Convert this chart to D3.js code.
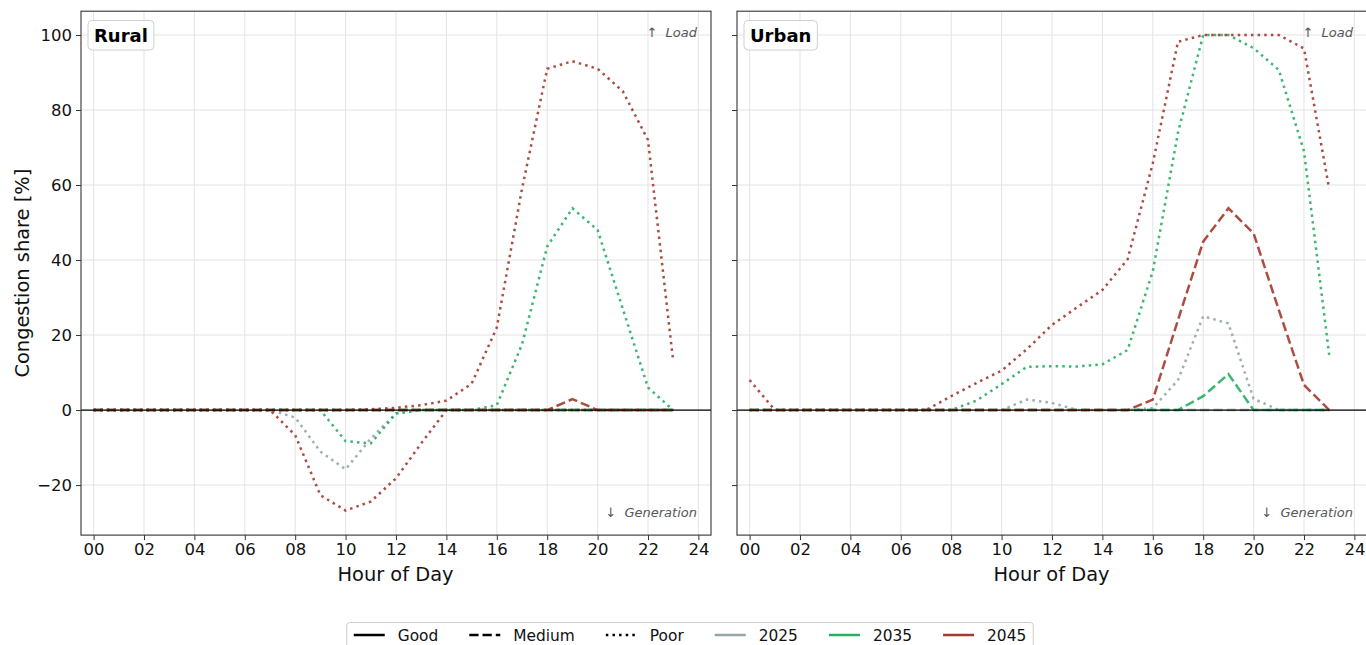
<!DOCTYPE html>
<html>
<head>
<meta charset="utf-8">
<script src="https://cdn.jsdelivr.net/npm/d3@7"></script>
<style>
  html, body { margin: 0; padding: 0; background: #fff; }
  svg { display: block; font-family: "DejaVu Sans", sans-serif; }
</style>
</head>
<body>
<svg id="chart" width="1366" height="645"></svg>
<script>
// ---------------- DATA ----------------
const hours = [0,1,2,3,4,5,6,7,8,9,10,11,12,13,14,15,16,17,18,19,20,21,22,23];
const xTicks = [0,2,4,6,8,10,12,14,16,18,20,22,24];
const yTicks = [-20,0,20,40,60,80,100];
const regions = ["Rural", "Urban"];
const qualities = ["Good", "Medium", "Poor"];
const years = ["2025", "2035", "2045"];
const yearColors = ["#95a5a6", "#27ae60", "#a33a2e"];

// Rural – load (positive) and generation (negative)
const ruralMedium2025Load = [0,0,0,0,0,0,0,0,0,0,0,0,0,0,0,0,0,0,0,0,0,0,0,0];
const ruralMedium2035Load = [0,0,0,0,0,0,0,0,0,0,0,0,0,0,0,0,0,0,0,0,0,0,0,0];
const ruralMedium2045Load = [0,0,0,0,0,0,0,0,0,0,0,0,0,0,0,0,0,0,0,2.9,0,0,0,0];
const ruralPoor2025Load   = [0,0,0,0,0,0,0,0,0,0,0,0,0,0,0,0,0,0,0,0,0,0,0,0];
const ruralPoor2035Load   = [0,0,0,0,0,0,0,0,0,0,0,0,0,0,0,0,1.3,17.5,43.6,53.8,48,27,6,0];
const ruralPoor2045Load   = [0,0,0,0,0,0,0,0,0,0,0,0.2,0.6,1.3,2.5,7,22,59,91,93,91,85,72,13];
const ruralPoor2025Gen    = [0,0,0,0,0,0,0,0,-2,-11.1,-15.8,-7.6,-0.9,0,0,0,0,0,0,0,0,0,0,0];
const ruralPoor2035Gen    = [0,0,0,0,0,0,0,0,0,0,-8.3,-8.9,-0.9,0,0,0,0,0,0,0,0,0,0,0];
const ruralPoor2045Gen    = [0,0,0,0,0,0,0,0,-6.7,-22.7,-26.8,-24.4,-18.2,-8.9,0,0,0,0,0,0,0,0,0,0];

// Urban – load only
const urbanMedium2025Load = [0,0,0,0,0,0,0,0,0,0,0,0,0,0,0,0,0,0,0,0,0,0,0,0];
const urbanMedium2035Load = [0,0,0,0,0,0,0,0,0,0,0,0,0,0,0,0,0,0,3.7,9.6,0,0,0,0];
const urbanMedium2045Load = [0,0,0,0,0,0,0,0,0,0,0,0,0,0,0,0,2.8,24,44.9,53.8,47.1,26.7,6.7,0];
const urbanPoor2025Load   = [0,0,0,0,0,0,0,0,0,0,0,2.8,1.9,0,0,0,0.5,8,25,23.1,3,0,0,0];
const urbanPoor2035Load   = [0,0,0,0,0,0,0,0,0,2.5,6.9,11.5,11.7,11.6,12.2,16,37,74,100,100,96.5,90.7,69,14.7];
const urbanPoor2045Load   = [8,0,0,0,0,0,0,0,3.7,7.2,10.5,16.2,22.7,27.4,32,40.2,65.8,98.2,100,100,100,100,96.4,59];

// series table: [region, quality, year, values]
const seriesTable = [
  ["Rural","Medium","2025",ruralMedium2025Load],
  ["Rural","Poor","2025",ruralPoor2025Load],
  ["Rural","Poor","2025",ruralPoor2025Gen],
  ["Rural","Medium","2035",ruralMedium2035Load],
  ["Rural","Poor","2035",ruralPoor2035Load],
  ["Rural","Poor","2035",ruralPoor2035Gen],
  ["Rural","Medium","2045",ruralMedium2045Load],
  ["Rural","Poor","2045",ruralPoor2045Load],
  ["Rural","Poor","2045",ruralPoor2045Gen],
  ["Urban","Medium","2025",urbanMedium2025Load],
  ["Urban","Poor","2025",urbanPoor2025Load],
  ["Urban","Medium","2035",urbanMedium2035Load],
  ["Urban","Poor","2035",urbanPoor2035Load],
  ["Urban","Medium","2045",urbanMedium2045Load],
  ["Urban","Poor","2045",urbanPoor2045Load]
];

// ---------------- LAYOUT ----------------
const svg = d3.select("#chart");
const panelW = 630, plotTop = 11.2, plotBottom = 535.1;
const panelLeft = [81, 737];
const LW = 2.5;
const dashFor = { Good: null, Medium: `${3.7*LW},${1.6*LW}`, Poor: `${1*LW},${1.65*LW}` };
const colorScale = d3.scaleOrdinal().domain(years).range(yearColors);
const tickFont = 16.5, labelFont = 19.4;

const y = d3.scaleLinear().domain([-33.35, 106.35]).range([plotBottom, plotTop]);

function annot(g, xPos, yPos, arrow, word) {
  const t = g.append("text").attr("x", xPos).attr("y", yPos).attr("text-anchor", "end")
    .attr("font-size", 13).attr("fill", "#555").style("white-space", "pre").style("opacity", 0.99);
  t.append("tspan").attr("font-family", "DejaVu Sans")
    .attr("font-style", "normal").text(arrow + "  ");
  t.append("tspan").attr("font-style", "italic").text(word);
}

regions.forEach((region, ri) => {
  const x0 = panelLeft[ri];
  const x = d3.scaleLinear().domain([-0.5, 24.5]).range([x0, x0 + panelW]);
  const g = svg.append("g");

  // grid
  g.append("g").selectAll("line").data(xTicks).join("line")
    .attr("x1", d => x(d)).attr("x2", d => x(d))
    .attr("y1", plotTop).attr("y2", plotBottom)
    .attr("stroke", "#e3e3e3").attr("stroke-width", 1);
  g.append("g").selectAll("line").data(yTicks).join("line")
    .attr("x1", x0).attr("x2", x0 + panelW)
    .attr("y1", d => y(d)).attr("y2", d => y(d))
    .attr("stroke", "#e3e3e3").attr("stroke-width", 1);

  // lines
  const line = d3.line().x((d, i) => x(hours[i])).y(d => y(d));
  seriesTable.filter(s => s[0] === region).forEach(s => {
    g.append("path")
      .datum(s[3])
      .attr("d", line)
      .attr("fill", "none")
      .attr("stroke", colorScale(s[2]))
      .attr("stroke-width", LW)
      .attr("stroke-dasharray", dashFor[s[1]])
      .attr("opacity", 0.9);
  });

  // zero line
  g.append("line")
    .attr("x1", x0).attr("x2", x0 + panelW)
    .attr("y1", y(0)).attr("y2", y(0))
    .attr("stroke", "#000").attr("stroke-width", 1.2);

  // axes
  const xAxis = d3.axisBottom(x).tickValues(xTicks).tickFormat(d3.format("02d")).tickSize(5).tickPadding(3);
  const gx = g.append("g").attr("transform", `translate(0,${plotBottom})`).call(xAxis);
  gx.select(".domain").remove();
  gx.selectAll("text").attr("font-size", tickFont).attr("fill", "#111").attr("font-family", "DejaVu Sans");
  gx.selectAll("line").attr("stroke", "#333");

  const yAxis = d3.axisLeft(y).tickValues(yTicks).tickSize(5).tickPadding(4);
  if (ri === 1) yAxis.tickFormat("");
  const gy = g.append("g").attr("transform", `translate(${x0},0)`).call(yAxis);
  gy.select(".domain").remove();
  gy.selectAll("text").attr("font-size", tickFont).attr("fill", "#111").attr("font-family", "DejaVu Sans");
  gy.selectAll("line").attr("stroke", "#333");

  // frame
  g.append("rect").attr("x", x0).attr("y", plotTop).attr("width", panelW).attr("height", plotBottom - plotTop)
    .attr("fill", "none").attr("stroke", "#333").attr("stroke-width", 1.1);

  // region label box
  const boxG = g.append("g");
  const boxRect = boxG.append("rect");
  const lab = boxG.append("text").attr("x", x0 + 13).attr("y", 42)
    .attr("font-size", 18).attr("font-weight", "bold").attr("fill", "#000").text(region);
  const bb = lab.node().getBBox();
  boxRect.attr("x", bb.x - 6).attr("y", 20.5).attr("width", bb.width + 12).attr("height", 29.5)
    .attr("rx", 4).attr("fill", "#fff").attr("fill-opacity", 0.85)
    .attr("stroke", "#d0d0d0").attr("stroke-width", 1);

  // annotations
  annot(g, x0 + panelW - 14, 37, "↑", "Load");
  annot(g, x0 + panelW - 14, 517, "↓", "Generation");

  // x label
  g.append("text").attr("x", x0 + panelW / 2 - 0.5).attr("y", 581).attr("text-anchor", "middle")
    .attr("font-size", labelFont).attr("fill", "#111").text("Hour of Day");
});

// y label
svg.append("text")
  .attr("transform", `translate(29,${(plotTop + plotBottom) / 2}) rotate(-90)`)
  .attr("text-anchor", "middle").attr("font-size", labelFont).attr("fill", "#111")
  .text("Congestion share [%]");

// ---------------- LEGEND ----------------
const legendItems = [
  { label: qualities[0], color: "#000", dash: dashFor.Good },
  { label: qualities[1], color: "#000", dash: dashFor.Medium },
  { label: qualities[2], color: "#000", dash: dashFor.Poor },
  { label: years[0], color: yearColors[0], dash: null },
  { label: years[1], color: yearColors[1], dash: null },
  { label: years[2], color: yearColors[2], dash: null }
];
const leg = svg.append("g");
const legBox = leg.append("rect");
let cx = 0;
const itemG = leg.append("g");
legendItems.forEach((it, i) => {
  const ig = itemG.append("g").attr("transform", `translate(${cx},0)`);
  ig.append("line").attr("x1", 0).attr("x2", 31).attr("y1", 0).attr("y2", 0)
    .attr("stroke", it.color).attr("stroke-width", LW).attr("stroke-dasharray", it.dash);
  const t = ig.append("text").attr("x", 44).attr("y", 5.5).attr("font-size", 15.4).attr("fill", "#111").text(it.label);
  const w = t.node().getComputedTextLength();
  cx += 44 + w + 31;
});
const totalW = cx - 31;
const legLeft = 690 - (totalW + 14) / 2;
itemG.attr("transform", `translate(${legLeft + 7},635)`);
legBox.attr("x", legLeft).attr("y", 622.5).attr("width", totalW + 14).attr("height", 40)
  .attr("rx", 3).attr("fill", "#fff").attr("stroke", "#cccccc").attr("stroke-width", 1);
</script>
</body>
</html>
